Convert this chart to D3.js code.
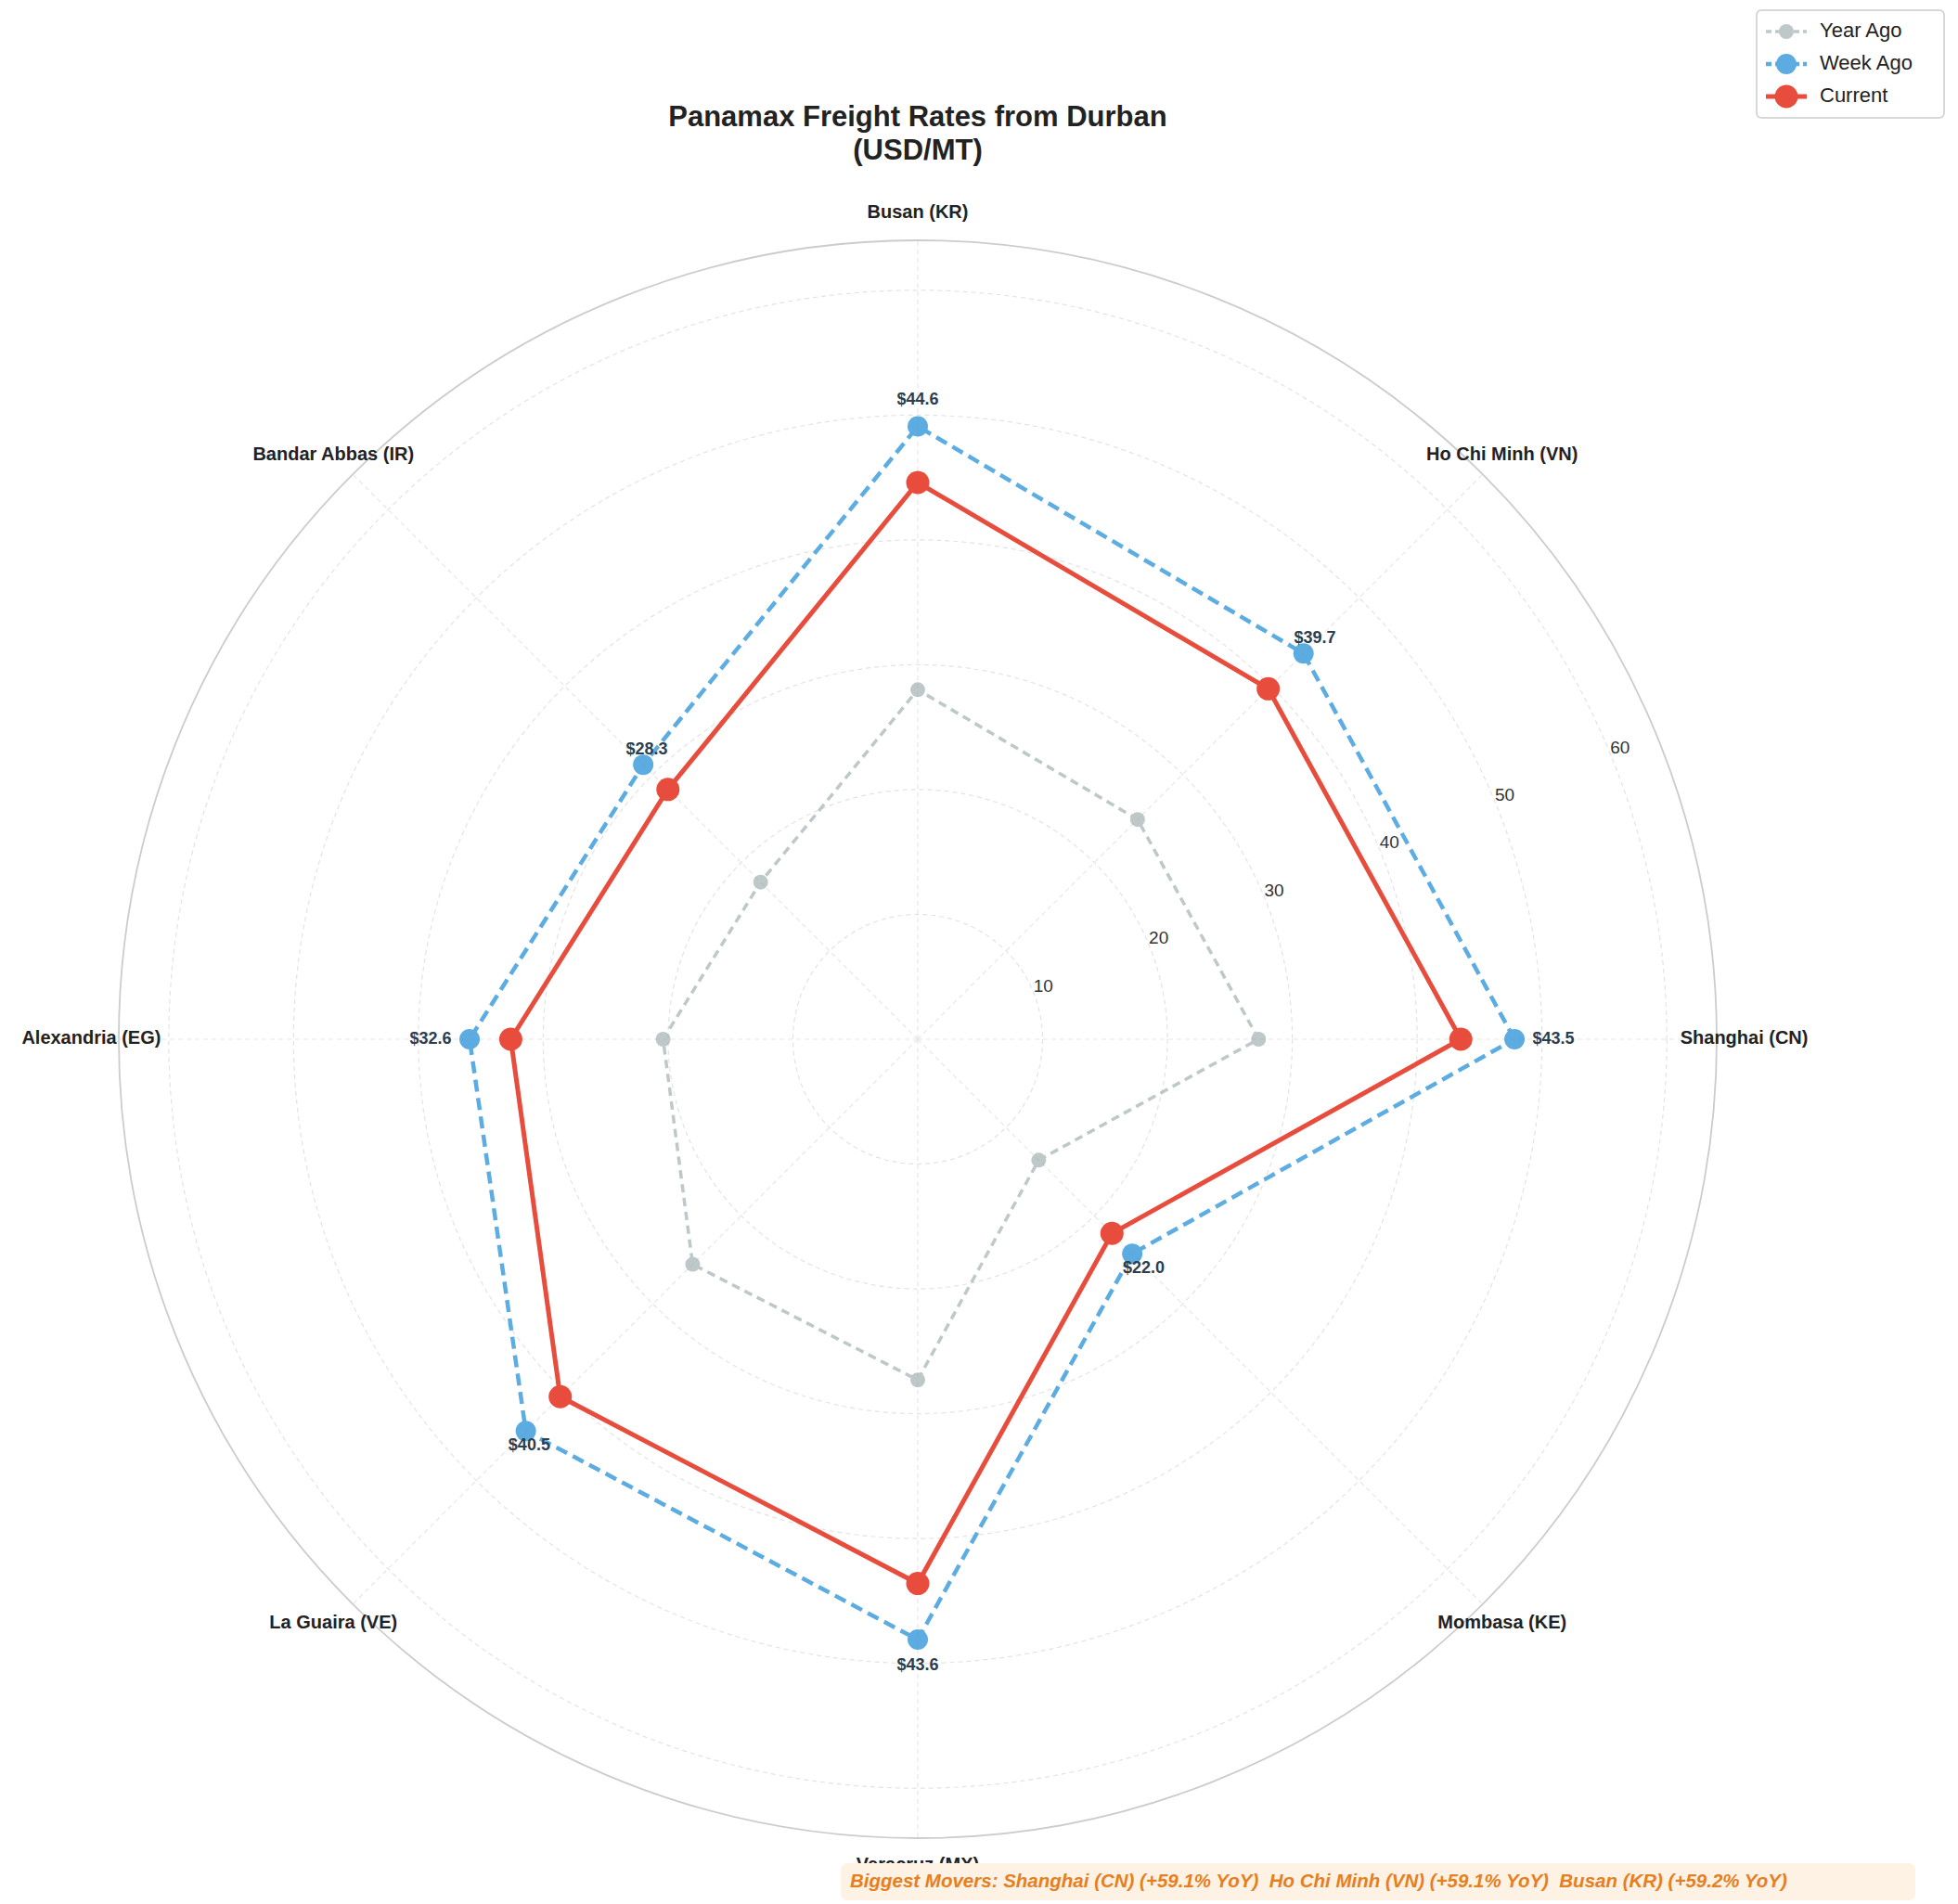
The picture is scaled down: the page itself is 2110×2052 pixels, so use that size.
<!DOCTYPE html>
<html>
<head>
<meta charset="utf-8">
<script src="https://cdn.jsdelivr.net/npm/d3@7"></script>
<style>
  body { margin: 0; background: #fff; }
  text { font-family: "Liberation Sans", Arial, sans-serif; white-space: pre; }
</style>
</head>
<body>
<div id="chart"></div>
<script>
const ports = ["Shanghai (CN)", "Ho Chi Minh (VN)", "Busan (KR)", "Bandar Abbas (IR)",
  "Alexandria (EG)", "La Guaira (VE)", "Veracruz (MX)", "Mombasa (KE)"];
const yearAgo = [27.3, 24.9, 28.0, 17.8, 20.4, 25.5, 27.3, 13.7];
const weekAgo = [47.8, 43.7, 49.1, 31.1, 35.9, 44.4, 48.1, 24.3];
const current = [43.5, 39.7, 44.6, 28.3, 32.6, 40.5, 43.6, 22.0];
const radialTicks = [10, 20, 30, 40, 50, 60];
const movers = "Biggest Movers: Shanghai (CN) (+59.1% YoY)  Ho Chi Minh (VN) (+59.1% YoY)  Busan (KR) (+59.2% YoY)";

const width = 2110, height = 2052;
const cx = 989, cy = 1120;
const maxVal = 64;

const svg = d3.select("#chart").append("svg")
  .attr("width", width).attr("height", height);

const r = d3.scaleLinear().domain([0, maxVal]).range([0, 861]);
// angle counterclockwise from east
const ang = d3.scaleLinear().domain([0, ports.length]).range([0, 2 * Math.PI]);
const px = (i, v) => cx + r(v) * Math.cos(ang(i));
const py = (i, v) => cy - r(v) * Math.sin(ang(i));

// grid circles
radialTicks.forEach(t => {
  svg.append("circle").attr("cx", cx).attr("cy", cy).attr("r", r(t))
    .attr("fill", "none").attr("stroke", "#e3e3e3").attr("stroke-width", 1.2)
    .attr("stroke-dasharray", "5,4");
});
svg.append("circle").attr("cx", cx).attr("cy", cy).attr("r", r(maxVal))
  .attr("fill", "none").attr("stroke", "#cccccc").attr("stroke-width", 1.8);

// spokes
ports.forEach((p, i) => {
  svg.append("line")
    .attr("x1", cx).attr("y1", cy)
    .attr("x2", px(i, maxVal)).attr("y2", py(i, maxVal))
    .attr("stroke", "#e6e6e6").attr("stroke-width", 1.2).attr("stroke-dasharray", "5,4");
});

// radial tick labels
radialTicks.forEach(t => {
  const a = Math.PI / 8;
  svg.append("text")
    .attr("x", cx + (r(t) + 12) * Math.cos(a))
    .attr("y", cy - (r(t) + 12) * Math.sin(a))
    .attr("text-anchor", "middle").attr("dominant-baseline", "middle")
    .attr("font-size", 19).attr("fill", "#333")
    .text(t);
});

// category labels
ports.forEach((p, i) => {
  svg.append("text")
    .attr("x", px(i, 66.2)).attr("y", py(i, 66.2))
    .attr("text-anchor", "middle").attr("dominant-baseline", "middle")
    .attr("font-size", 20).attr("font-weight", "bold").attr("fill", "#222")
    .text(p);
});

const series = [
  { name: "Year Ago", values: yearAgo, color: "#95a5a6", opacity: 0.6, width: 3.5, dash: "9,6", mr: 8 },
  { name: "Week Ago", values: weekAgo, color: "#3498db", opacity: 0.8, width: 4.5, dash: "13,7", mr: 11 },
  { name: "Current", values: current, color: "#e74c3c", opacity: 1, width: 5, dash: null, mr: 12.5 }
];

const line = d3.lineRadial()
  .angle((d, i) => Math.PI / 2 - ang(i))
  .radius(d => r(d))
  .curve(d3.curveLinearClosed);

series.forEach(s => {
  const g = svg.append("g").attr("transform", `translate(${cx},${cy})`).attr("opacity", s.opacity);
  g.append("path").datum(s.values).attr("d", line)
    .attr("fill", "none").attr("stroke", s.color).attr("stroke-width", s.width)
    .attr("stroke-dasharray", s.dash);
  g.selectAll("circle").data(s.values).enter().append("circle")
    .attr("cx", (d, i) => px(i, d) - cx).attr("cy", (d, i) => py(i, d) - cy)
    .attr("r", s.mr).attr("fill", s.color);
});

// value labels (current value) at week-ago points
ports.forEach((p, i) => {
  const card = i % 2 === 0;
  const off = card ? 28 : 6;
  const a = ang(i);
  const x = px(i, weekAgo[i]) + off * Math.cos(a) + (card ? (i === 0 ? 14 : i === 4 ? -14 : 0) : 8);
  const y = py(i, weekAgo[i]) - off * Math.sin(a) + (card ? 0 : (i === 1 || i === 3 ? -12 : 12));
  svg.append("text")
    .attr("x", x).attr("y", y)
    .attr("text-anchor", "middle").attr("dominant-baseline", "middle")
    .attr("font-size", 18).attr("font-weight", "bold").attr("fill", "#2c3e50")
    .text(`$${current[i].toFixed(1)}`);
});

// title
svg.append("text").attr("x", cx).attr("y", 136).attr("text-anchor", "middle")
  .attr("font-size", 31).attr("font-weight", "bold").attr("fill", "#222")
  .text("Panamax Freight Rates from Durban");
svg.append("text").attr("x", cx).attr("y", 172).attr("text-anchor", "middle")
  .attr("font-size", 31).attr("font-weight", "bold").attr("fill", "#222")
  .text("(USD/MT)");

// legend
const lg = svg.append("g").attr("transform", "translate(1893,11)");
lg.append("rect").attr("width", 202).attr("height", 116).attr("rx", 5)
  .attr("fill", "#fff").attr("stroke", "#ccc").attr("stroke-width", 1.5);
series.forEach((s, i) => {
  const y = 23 + i * 35;
  const gi = lg.append("g").attr("opacity", s.opacity);
  gi.append("line").attr("x1", 10).attr("x2", 54).attr("y1", y).attr("y2", y)
    .attr("stroke", s.color).attr("stroke-width", s.width).attr("stroke-dasharray", s.dash ? "6,4" : null);
  gi.append("circle").attr("cx", 32).attr("cy", y).attr("r", s.mr).attr("fill", s.color);
  lg.append("text").attr("x", 68).attr("y", y).attr("dominant-baseline", "middle")
    .attr("font-size", 22).attr("fill", "#222").text(s.name);
});

// biggest movers box
svg.append("rect").attr("x", 906).attr("y", 2008).attr("width", 1158).attr("height", 40).attr("rx", 7)
  .attr("fill", "#fdf2e3");
svg.append("text").attr("x", 916).attr("y", 2029).attr("dominant-baseline", "middle")
  .attr("font-size", 20.5).attr("font-weight", "bold").attr("font-style", "italic")
  .attr("fill", "#e67e22").text(movers);
</script>
</body>
</html>
